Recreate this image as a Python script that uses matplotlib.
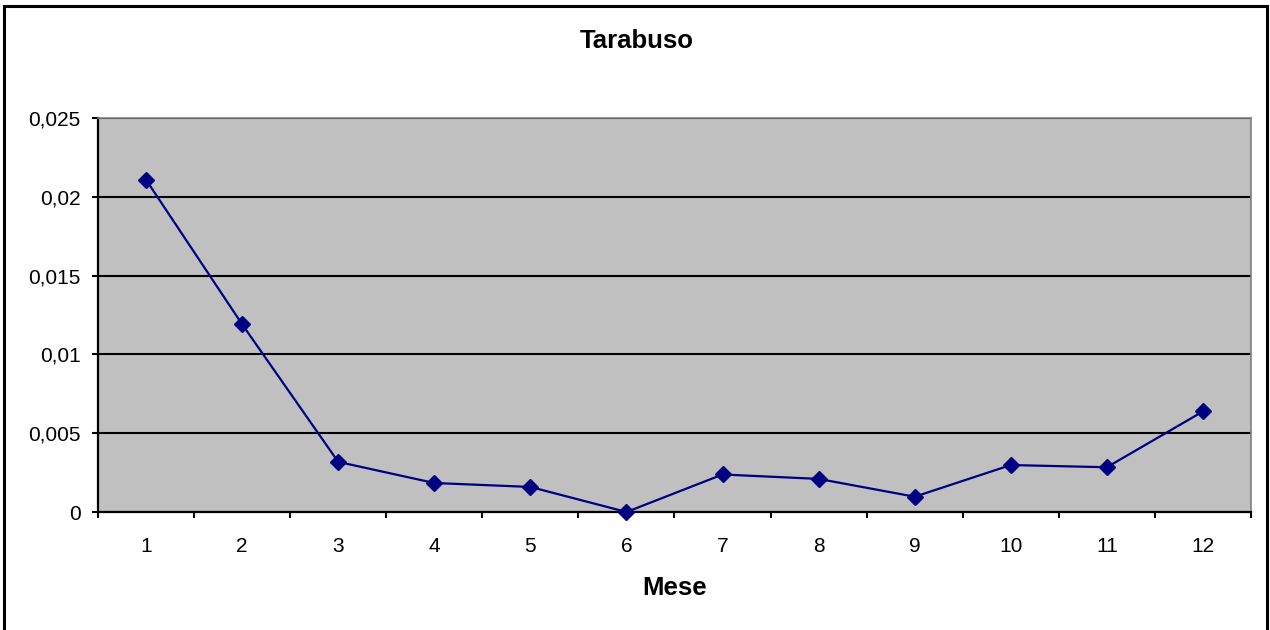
import matplotlib
matplotlib.use("Agg")
import matplotlib.pyplot as plt
from matplotlib.patches import Rectangle

plt.rcParams['font.family'] = ['Liberation Sans', 'DejaVu Sans']

months = ['1', '2', '3', '4', '5', '6', '7', '8', '9', '10', '11', '12']
values = [0.02108, 0.01191, 0.00318, 0.00184, 0.00159, 0.0, 0.00238, 0.00210, 0.00097, 0.00298, 0.00284, 0.00638]
ytick_vals = [0, 0.005, 0.01, 0.015, 0.02, 0.025]
ytick_labels = ['0', '0,005', '0,01', '0,015', '0,02', '0,025']
title = 'Tarabuso'
xlabel = 'Mese'

fig = plt.figure(figsize=(12.7, 6.3), dpi=100)
fig.patch.set_facecolor('white')
# outer chart border
fig.patches.append(Rectangle((3.5 / 1270, -0.05), (1267 - 3.5) / 1270, (630 - 5.5) / 630 + 0.05,
                             transform=fig.transFigure, fill=False, edgecolor='black',
                             linewidth=2.2, zorder=0))

ax = fig.add_axes([98 / 1270, (630 - 512) / 630, (1251 - 98) / 1270, 394 / 630])
ax.set_facecolor('#C0C0C0')

x = list(range(len(months)))
ax.plot(x, values, color='#000080', linewidth=1.6, marker='D', markersize=7.8,
        markerfacecolor='#000080', markeredgecolor='#000080', zorder=3, clip_on=False)

ax.set_xlim(-0.5, len(months) - 0.5)
ax.set_ylim(0, 0.025)
ax.set_yticks(ytick_vals)
ax.set_yticklabels(ytick_labels)
ax.yaxis.grid(True, color='black', linewidth=1.5)
ax.set_axisbelow(True)

ax.set_xticks([i - 0.5 for i in range(len(months) + 1)])
ax.set_xticklabels([])
ax.set_xticks(x, minor=True)
ax.set_xticklabels(months, minor=True)
ax.tick_params(axis='x', which='minor', length=0, pad=18, labelsize=15)
ax.tick_params(axis='x', which='major', length=4.5, width=1.5, direction='out', color='black')
ax.tick_params(axis='y', length=4.5, width=1.5, direction='out', labelsize=15, pad=8)

for side in ['left', 'bottom']:
    ax.spines[side].set_color('black')
    ax.spines[side].set_linewidth(1.6)
for side in ['top', 'right']:
    ax.spines[side].set_color('#808080')
    ax.spines[side].set_linewidth(1.2)

fig.text(636.5 / 1270, 1 - 41 / 630, title, ha='center', va='center', fontsize=18.5, fontweight='bold')
fig.text(674.5 / 1270, 1 - 588 / 630, xlabel, ha='center', va='center', fontsize=18.5, fontweight='bold')

fig.savefig('out.png', dpi=100)
